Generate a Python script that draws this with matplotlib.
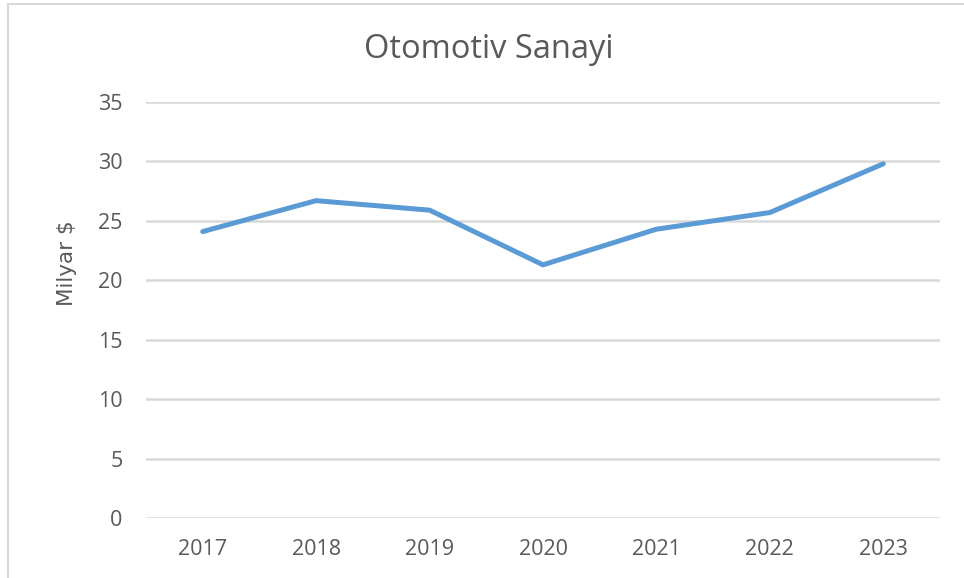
import matplotlib.pyplot as plt
from matplotlib.patches import Rectangle

# Otomotiv sanayi, milyar $
years = ['2017', '2018', '2019', '2020', '2021', '2022', '2023']
values = [24.1, 26.7, 25.9, 21.3, 24.3, 25.7, 29.8]
yticks = [0, 5, 10, 15, 20, 25, 30, 35]

text_color = '#595959'
grid_color = '#d9d9d9'
line_color = '#5b9bd5'

W, H = 964, 578
fig = plt.figure(figsize=(W / 100, H / 100), dpi=100)
ax = fig.add_axes([146 / W, 1 - 518 / H, (940 - 146) / W, (518 - 102) / H])

x = list(range(len(years)))
ax.plot(x, values, color=line_color, lw=3.6, solid_capstyle='round',
        solid_joinstyle='round', zorder=3)

ax.set_xlim(-0.5, len(years) - 0.5)
ax.set_ylim(0, 35)
ax.set_yticks(yticks)
ax.set_xticks(x)
ax.set_xticklabels(years)
ax.grid(axis='y', color=grid_color, lw=1.8)
ax.set_axisbelow(True)
for s in ax.spines.values():
    s.set_visible(False)
ax.tick_params(length=0, colors=text_color, labelsize=15.5, labelfontfamily='Open Sans')
ax.tick_params(axis='y', pad=17)
ax.tick_params(axis='x', pad=15)

fig.text(489 / W, 1 - 50 / H, 'Otomotiv Sanayi', ha='center', va='center',
         fontsize=23.5, color=text_color, family='Open Sans')
fig.text(67 / W, 1 - 263 / H, 'Milyar \\$', ha='center', va='center', rotation=90,
         fontsize=15.5, color=text_color, family='DejaVu Sans')

# chart border
fig.patches.append(Rectangle((8 / W, -0.1), 1.2, 1 - 3.5 / H + 0.1,
                             transform=fig.transFigure, fill=False,
                             edgecolor=grid_color, lw=1.5))

fig.savefig('out.png', dpi=100)
